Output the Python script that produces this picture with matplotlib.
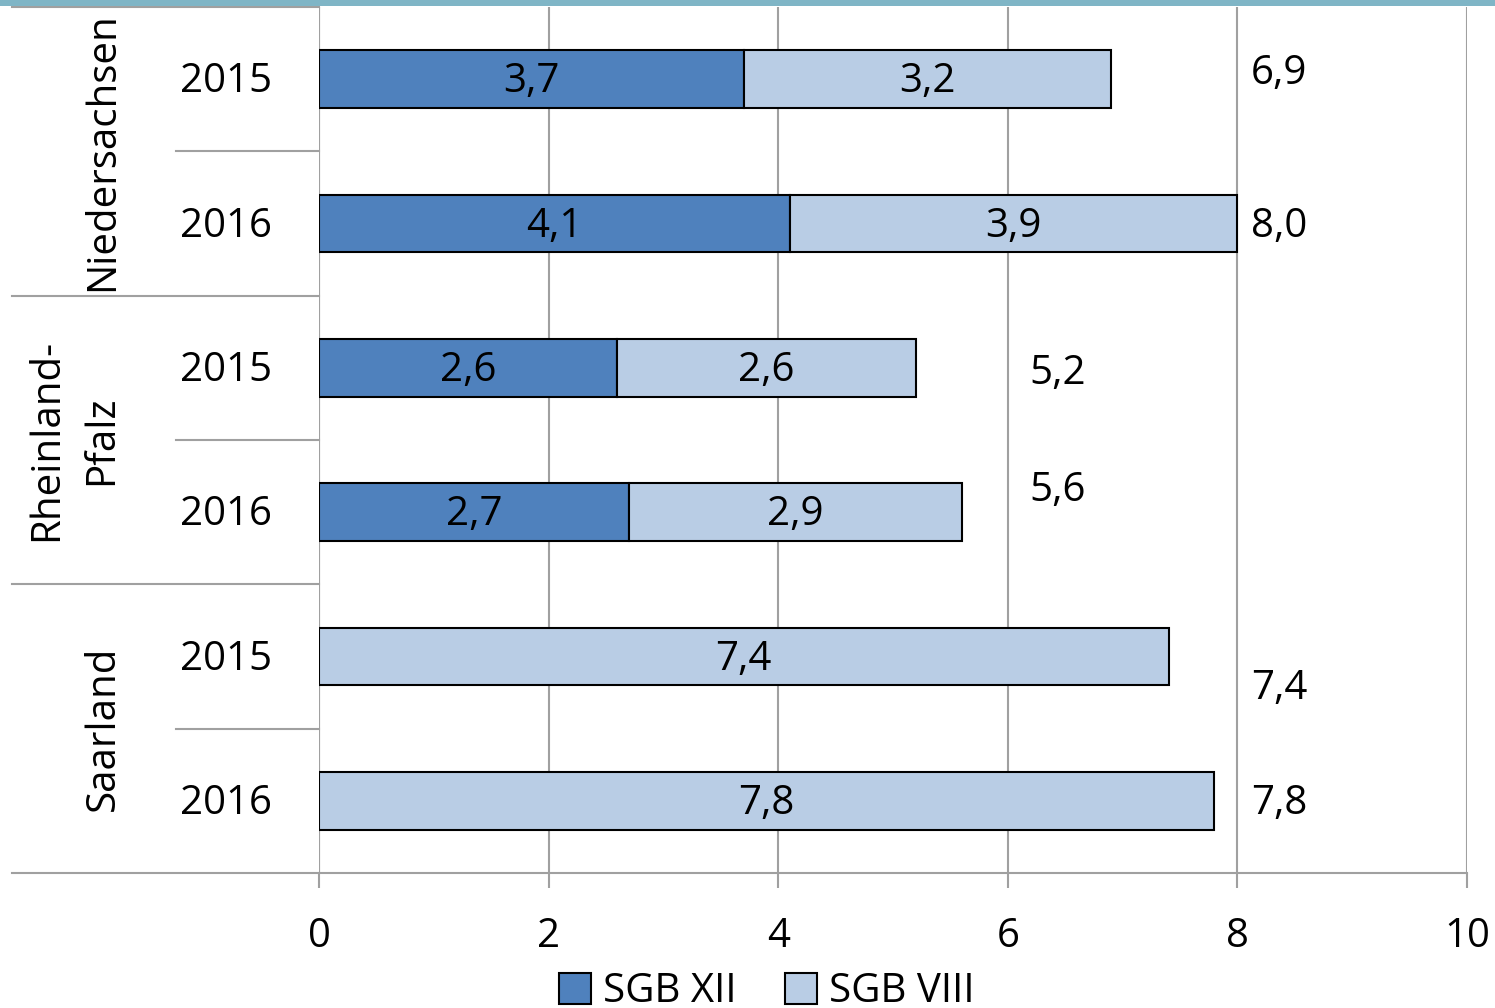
import numpy as np
import matplotlib.pyplot as plt
from matplotlib.patches import Rectangle
from matplotlib.lines import Line2D

plt.rcParams['font.family'] = ['Open Sans', 'DejaVu Sans']

# data
groups = ["Niedersachsen", "Rheinland-\nPfalz", "Saarland"]
years = ["2015", "2016", "2015", "2016", "2015", "2016"]
sgb_xii = [3.7, 4.1, 2.6, 2.7, 0.0, 0.0]
sgb_viii = [3.2, 3.9, 2.6, 2.9, 7.4, 7.8]
totals = [6.9, 8.0, 5.2, 5.6, 7.4, 7.8]

dark = "#4F81BD"
light = "#B9CDE5"
grid_c = "#A0A0A0"
fs = 29

fig = plt.figure(figsize=(14.95, 10.08), dpi=100)
ax = fig.add_axes([319 / 1495, 1 - 873 / 1008, (1467 - 319) / 1495, (873 - 7) / 1008])

y = np.arange(len(years))
xii = np.array(sgb_xii)
viii = np.array(sgb_viii)
ax.barh(y, xii, height=0.4, color=dark, edgecolor="black", linewidth=1.5, zorder=3)
ax.barh(y, viii, left=xii, height=0.4, color=light, edgecolor="black", linewidth=1.5, zorder=3)

for i in range(len(years)):
    if xii[i] > 0:
        ax.text(xii[i] / 2, y[i] + 0.02, f"{xii[i]:.1f}".replace(".", ","), ha="center",
                va="center", fontsize=fs, zorder=4)
    ax.text(xii[i] + viii[i] / 2, y[i] + 0.02, f"{viii[i]:.1f}".replace(".", ","), ha="center",
            va="center", fontsize=fs, zorder=4)

# total labels float a bit off the bars, like in the original
tot_x = [8.12, 8.12, 6.19, 6.19, 8.12, 8.12]
tot_dy = [-0.04, 0.02, 0.04, -0.15, 0.22, 0.02]
for i, t in enumerate(totals):
    ax.text(tot_x[i], y[i] + tot_dy[i], f"{t:.1f}".replace(".", ","), ha="left",
            va="center", fontsize=fs)

ax.set_xlim(0, 10)
ax.set_ylim(len(years) - 0.5, -0.5)
ax.set_xticks(np.arange(0, 11, 2))
ax.set_xticklabels([str(v) for v in range(0, 11, 2)], fontsize=fs)
ax.tick_params(axis="x", length=11, width=1.5, color=grid_c, pad=20)
ax.set_yticks([])
ax.grid(axis="x", color=grid_c, linewidth=1.5, zorder=0)
for s in ["top", "right", "left"]:
    ax.spines[s].set_visible(False)
ax.spines["bottom"].set_color(grid_c)
ax.spines["bottom"].set_linewidth(1.5)
ax.axvline(0, color=grid_c, linewidth=1.5, zorder=2)

# category area on the left
trans = ax.get_yaxis_transform()
for i, yr in enumerate(years):
    ax.text(-0.041, y[i] + 0.02, yr, transform=trans, ha="right", va="center", fontsize=fs)
for b in [-0.5, 1.5, 3.5, 5.5]:
    ax.add_line(Line2D([-0.2675, 0], [b, b], transform=trans, color=grid_c,
                       linewidth=1.5, clip_on=False))
for b in [0.5, 2.5, 4.5]:
    ax.add_line(Line2D([-0.125, 0], [b, b], transform=trans, color=grid_c,
                       linewidth=1.5, clip_on=False))
group_x = [-0.188, -0.213, -0.188]
for g, name in enumerate(groups):
    ax.text(group_x[g], 2 * g + 0.5, name, transform=trans, rotation=90, ha="center",
            va="center", fontsize=fs, linespacing=1.5)

# legend
handles = [Rectangle((0, 0), 1, 1, facecolor=dark, edgecolor="black", linewidth=1.5),
           Rectangle((0, 0), 1, 1, facecolor=light, edgecolor="black", linewidth=1.5)]
fig.legend(handles, ["SGB XII", "SGB VIII"], loc="center", ncol=2,
           bbox_to_anchor=(767 / 1495, 1 - 992 / 1008), frameon=False, fontsize=fs,
           handlelength=0.8, handleheight=0.8, handletextpad=0.3, columnspacing=1.2)

# teal band on top
fig.add_artist(Rectangle((0, 1 - 6 / 1008), 1, 6 / 1008, transform=fig.transFigure,
                         facecolor="#7FB5C6", edgecolor="none"))

fig.savefig("out.png", dpi=100)
